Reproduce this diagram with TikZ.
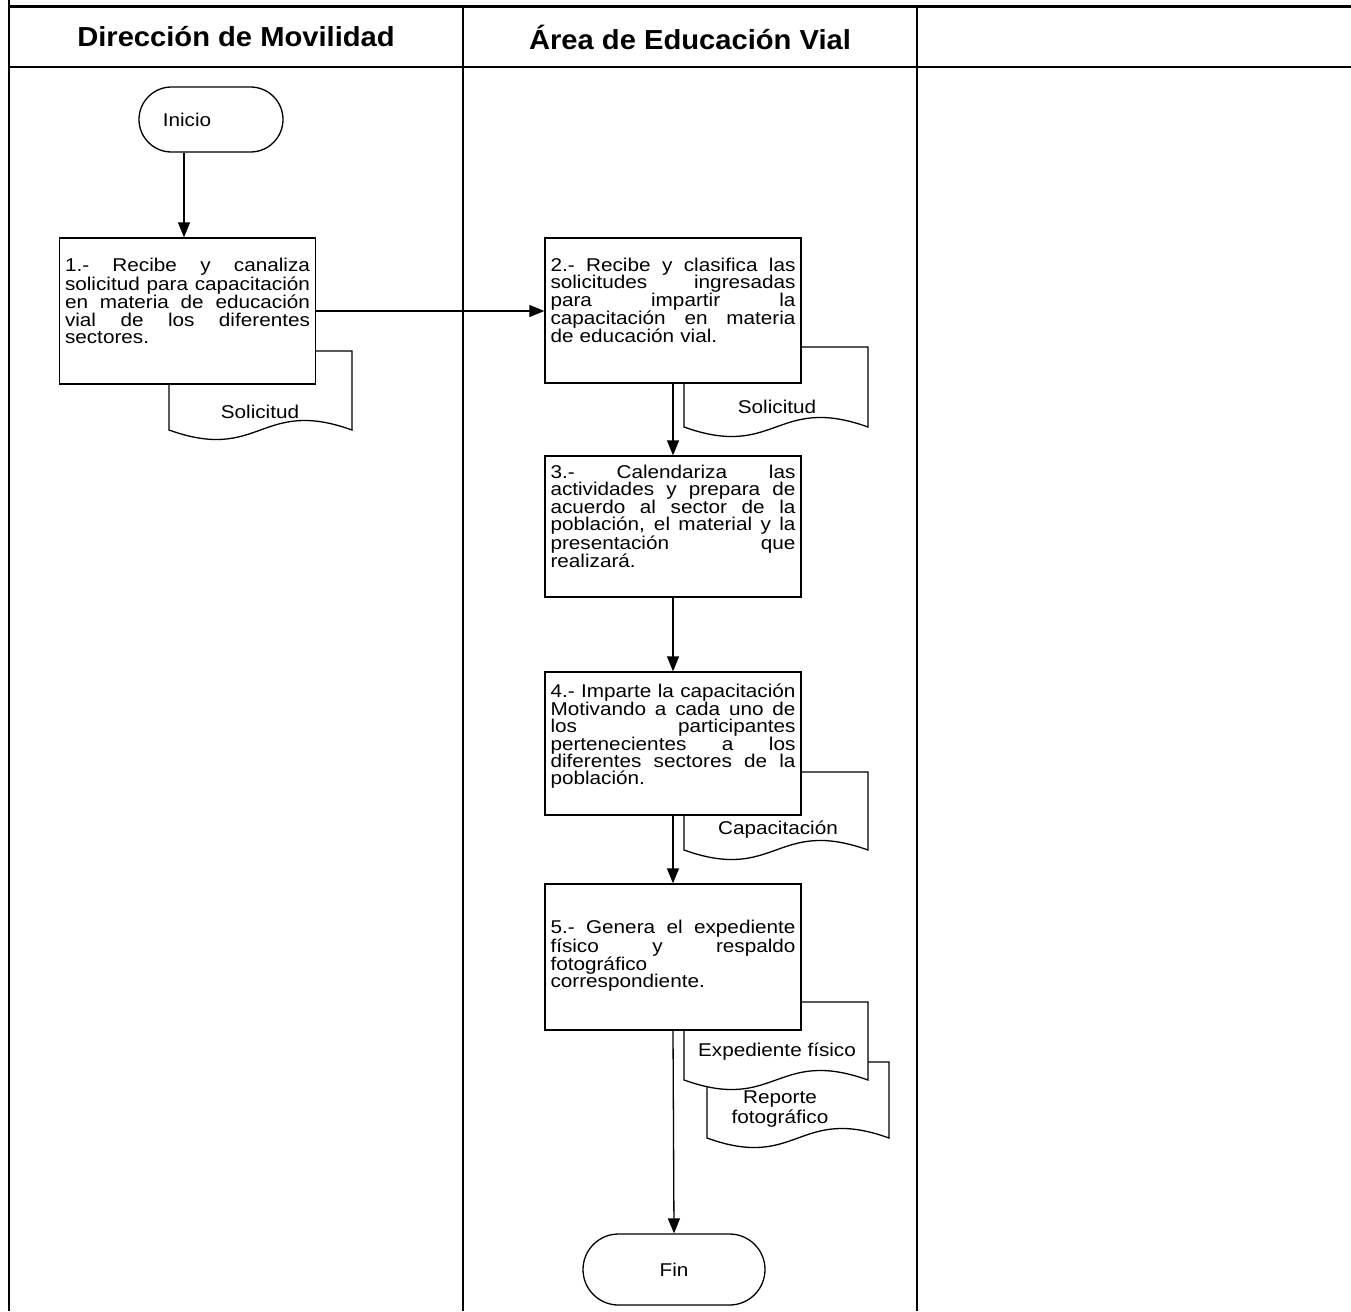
\documentclass[tikz,border=0pt]{standalone}
\usepackage{fontspec}
\setmainfont{Liberation Sans}[FakeStretch=1.12]
\newfontfamily\hdrfont{Liberation Sans}[FakeStretch=1.06]
\usetikzlibrary{arrows.meta,shapes.misc}
\newlength\bw \setlength\bw{245pt}
\newcommand\jl[1]{\makebox[\bw][s]{\spaceskip=0pt\xspaceskip=0pt #1}\\}
\newcommand\docshape[4]{\filldraw[docst] (#1,#2) -- (#3,#2) -- (#3,#4) .. controls ({(#1+#3)/2},#4-33) and ({(#1+#3)/2},#4+33) .. (#1,#4) -- cycle;}
\begin{document}
\begin{tikzpicture}[x=1pt,y=-1pt,
 tbl/.style={line width=2.2pt},
 box/.style={draw, line width=1.3pt, fill=white, rectangle, minimum width=256pt, inner sep=0pt},
 txt/.style={font=\fontsize{18.5}{17.4}\selectfont, align=left, text width=\bw, inner sep=0pt},
 dtxt/.style={font=\fontsize{18.5}{20}\selectfont, align=center, inner sep=0pt},
 docst/.style={draw, line width=1.3pt, fill=white},
 term/.style={draw, rounded rectangle, line width=1.3pt, fill=white, inner sep=0pt, font=\fontsize{18.5}{20}\selectfont},
 arr/.style={line width=1.3pt, -{Triangle[length=15pt,width=12pt]}},
 hdr/.style={font=\hdrfont\fontsize{27.5}{30}\selectfont\bfseries, inner sep=0pt}]
\useasboundingbox (0,0) rectangle (1351,1311);
% table
\draw[tbl] (9,0) -- (9,1311);
\draw[tbl] (9,6.5) -- (1351,6.5);
\draw[tbl] (9,67) -- (1351,67);
\draw[tbl] (463,6.5) -- (463,1311);
\draw[tbl] (917,6.5) -- (917,1311);
\node[hdr] (h1) at (236,37) {Dirección de Movilidad};
\node[hdr] (h2) at (690,37) {Área de Educación Vial};
% documents
\docshape{169}{351}{352}{430}
\node[dtxt] (d1) at (260,412) {Solicitud};
\docshape{684}{347}{868}{427}
\node[dtxt] (d2) at (777,407) {Solicitud};
\docshape{684}{772}{868}{850}
\node[dtxt] (d4) at (778,830) {Capacitación};
\docshape{707}{1062}{889}{1138}
\node[dtxt] (d5b) at (780,1109) {Reporte\\fotográfico};
\docshape{684}{1002}{868}{1080}
\node[dtxt] (d5a) at (777,1052) {Expediente físico};
% terminals
\node[term, minimum width=144pt, minimum height=65pt] (ini) at (211,119.5) {};
\node[dtxt] (tini) at (187,119.5) {Inicio};
\node[term, minimum width=182pt, minimum height=71pt] (fin) at (674,1269.5) {Fin};
% boxes
\node[box, minimum height=146pt] (b1) at (187.5,311) {};
\node[txt] (t1) at ([yshift=10pt]b1.center) {\jl{1.- Recibe y canaliza}\jl{solicitud para capacitación}\jl{en materia de educación}\jl{vial de los diferentes}sectores.};
\node[box, minimum height=145pt] (b2) at (673,310.5) {};
\node[txt] (t2) at ([yshift=10pt]b2.center) {\jl{2.- Recibe y clasifica las}\jl{solicitudes ingresadas}\jl{para impartir la}\jl{capacitación en materia}de educación vial.};
\node[box, minimum height=141pt] (b3) at (673,526.5) {};
\node[txt] (t3) at ([yshift=10pt]b3.center) {\jl{3.- Calendariza las}\jl{actividades y prepara de}\jl{acuerdo al sector de la}\jl{población, el material y la}\jl{presentación que}realizará.};
\node[box, minimum height=143pt] (b4) at (673,743.5) {};
\node[txt] (t4) at ([yshift=7pt]b4.center) {\jl{4.- Imparte la capacitación}\jl{Motivando a cada uno de}\jl{los participantes}\jl{pertenecientes a los}\jl{diferentes sectores de la}población.};
\node[box, minimum height=146pt] (b5) at (673,957) {};
\node[txt] (t5) at ([yshift=1pt]b5.center) {\jl{5.- Genera el expediente}\jl{físico y respaldo}fotográfico\\correspondiente.};
% connectors
\coordinate (ax) at (184,0);
\draw[arr] (ini.south -| ax) -- (b1.north -| ax);
\draw[arr] (b1.east) -- (b1.east -| b2.west);
\draw[arr] (b2.south) -- (b3.north);
\draw[arr] (b3.south) -- (b4.north);
\draw[arr] (b4.south) -- (b5.north);
\draw[arr] (b5.south) -- (fin.north);
\end{tikzpicture}
\end{document}
